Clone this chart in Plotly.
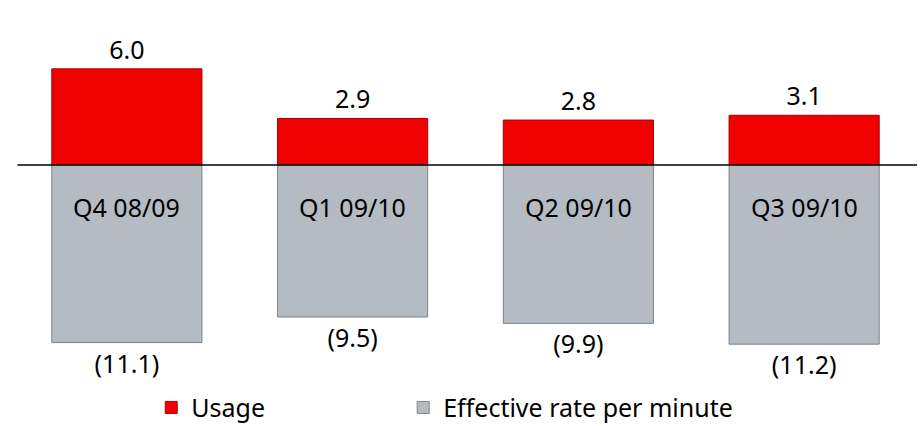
import plotly.graph_objects as go

# Quarterly contribution: usage vs effective rate per minute
quarters = ["Q4 08/09", "Q1 09/10", "Q2 09/10", "Q3 09/10"]
usage = [6.0, 2.9, 2.8, 3.1]
rate_per_minute = [-11.1, -9.5, -9.9, -11.2]

FONT = "Noto Sans"
TXT = 25

fig = go.Figure()

fig.add_trace(go.Bar(
    x=quarters, y=usage, name="Usage", legend="legend",
    marker=dict(color="#F00000", line=dict(color="#A80000", width=1)),
    text=[f"{v:.1f}" for v in usage], textposition="outside",
    textfont=dict(family=FONT, size=TXT, color="black"),
    cliponaxis=False, width=0.665,
))

fig.add_trace(go.Bar(
    x=quarters, y=rate_per_minute, name="Effective rate per minute", legend="legend2",
    marker=dict(color="#B5BBC2", line=dict(color="#7E838A", width=1)),
    text=[f"({abs(v):.1f})" for v in rate_per_minute], textposition="outside",
    textfont=dict(family=FONT, size=TXT, color="black"),
    cliponaxis=False, width=0.665,
))

# Quarter names sit inside the top of the grey bars
for q in quarters:
    fig.add_annotation(x=q, y=-2.6, text=q, showarrow=False,
                       font=dict(family=FONT, size=TXT, color="black"))

# Zero baseline
fig.add_shape(type="line", xref="paper", yref="y", x0=0.004, x1=1.0, y0=0, y1=0,
              line=dict(color="black", width=1.5))

legend_common = dict(orientation="h", xanchor="left", yref="container",
                     y=0.097, yanchor="top", bgcolor="rgba(0,0,0,0)",
                     font=dict(family=FONT, size=25, color="black"))

fig.update_layout(
    width=920, height=426,
    barmode="relative",
    paper_bgcolor="white", plot_bgcolor="white",
    margin=dict(l=14, r=3, t=0, b=53, autoexpand=False),
    showlegend=True,
    legend=dict(x=0.152, **legend_common),
    legend2=dict(x=0.431, **legend_common),
    xaxis=dict(visible=False),
    yaxis=dict(visible=False, range=[-13, 10.3]),
)

fig.write_html("out.html")
